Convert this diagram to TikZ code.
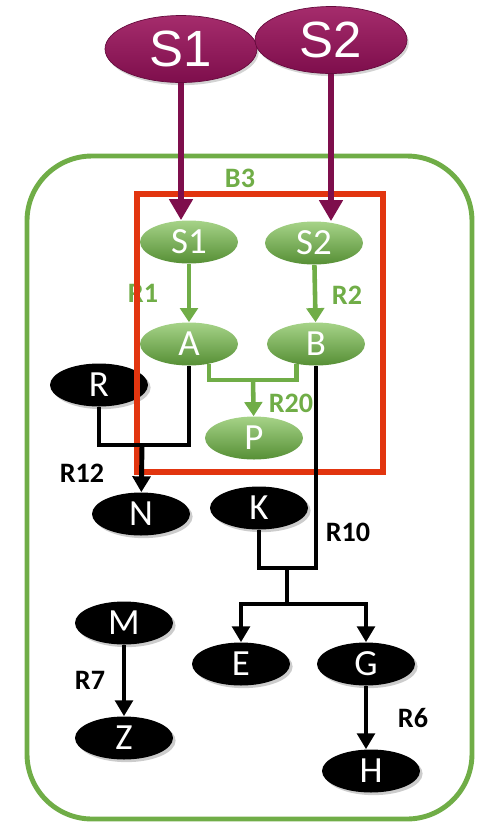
\documentclass[tikz,border=0pt]{standalone}
\usepackage{fontspec}
\setmainfont{Carlito}
\newfontfamily\arialfont{Liberation Sans}
\usetikzlibrary{shapes.geometric,arrows.meta,shadows}

\definecolor{plum}{HTML}{7E0E4C}
\definecolor{plumlight}{HTML}{A52C6C}
\definecolor{leaf}{HTML}{70AD47}
\definecolor{leaflight}{HTML}{A6D388}
\definecolor{leafdark}{HTML}{568F35}
\definecolor{boxred}{HTML}{E2350F}

\tikzset{
  metab/.style={ellipse, inner sep=0pt, minimum width=1.96cm, minimum height=0.86cm,
    text=white, font=\fontsize{21}{21}\selectfont},
  outside/.style={ellipse, inner sep=0pt, minimum width=3.04cm, minimum height=1.34cm,
    top color=plumlight, bottom color=plum, draw=plum!80!black, text=white,
    font=\arialfont\fontsize{29}{29}\selectfont,
    drop shadow={shadow xshift=1pt, shadow yshift=-1.5pt, opacity=0.35}},
  inside/.style={metab, top color=leaflight, bottom color=leafdark},
  other/.style={metab, fill=black,
    drop shadow={shadow xshift=1.5pt, shadow yshift=-1.5pt, opacity=0.4}},
  gline/.style={leaf, line width=2.6pt},
  garrow/.style={gline, -{Triangle[width=10pt,length=8pt]}},
  bline/.style={black, line width=2.8pt},
  barrow/.style={bline, -{Triangle[width=10pt,length=9pt]}},
  parrow/.style={plum, line width=3.6pt, -{Triangle[width=13pt,length=12pt]}},
  rxn/.style={font=\bfseries\fontsize{16}{16}\selectfont},
}

\begin{document}
\begin{tikzpicture}[x=0.02cm, y=-0.02cm]
  \useasboundingbox (0,0) rectangle (477,823);

  % Cell boundary
  \draw[leaf, line width=2.8pt, rounded corners=1.3cm] (27,156) rectangle (472,819);
  \node[rxn, text=leaf] (b3) at (240,178) {B3};

  % Outside metabolites
  \node[outside] (S1t) at (181,49) {S1};
  \node[outside] (S2t) at (331,40) {S2};

  % Compartment metabolites
  \node[inside] (S1g) at (189,242) {S1};
  \node[inside] (S2g) at (314,243) {S2};
  \node[inside] (A) at (189,344) {A};
  \node[inside] (B) at (316,344) {B};
  \node[inside] (P) at (254,438) {P};

  % Other metabolites
  \node[other] (R) at (99,385) {R};
  \node[other] (N) at (141,514) {N};
  \node[other] (K) at (259,508) {K};
  \node[other] (M) at (124,623) {M};
  \node[other] (E) at (241,664) {E};
  \node[other] (G) at (366,664) {G};
  \node[other] (Z) at (124,738) {Z};
  \node[other] (H) at (371,771) {H};

  % Reaction labels
  \node[rxn, text=leaf] (r1) at (143,293) {R1};
  \node[rxn, text=leaf] (r2) at (347,295) {R2};
  \node[rxn, text=leaf] (r20) at (291,403) {R20};
  \node[rxn] (r12) at (82,473) {R12};
  \node[rxn] (r10) at (348,532) {R10};
  \node[rxn] (r7) at (90,680) {R7};
  \node[rxn] (r6) at (413,718) {R6};

  % Compartment box
  \draw[boxred, line width=3.4pt] (137,194) rectangle (383,472);

  % Junction points
  \coordinate (j20) at (253,380);
  \coordinate (j12) at (142,445);
  \coordinate (j10) at (287,568);
  \coordinate (k10) at (287,604);

  % Transport
  \draw[parrow] (S1t.south) -- (S1t.south |- S1g.north);
  \draw[parrow] (S2t.south) -- (S2t.south |- S2g.north);

  % Reactions in the compartment
  \draw[garrow] (S1g) -- (A);
  \draw[garrow] (S2g) -- (B);
  \draw[gline] (A.-45) |- (j20) -| (B.-134);
  \draw[garrow] (j20) -- (P);

  % Reactions outside
  \draw[bline] (R.south) |- (j12);
  \draw[bline] (A.south) |- (j12);
  \draw[barrow] (j12) -- (N);
  \draw[bline] (B.south) |- (j10);
  \draw[bline] (K.south) |- (j10);
  \draw[bline] (j10) -- (k10);
  \draw[barrow] (k10) -| (E.north);
  \draw[barrow] (k10) -| (G.north);
  \draw[barrow] (M) -- (Z);
  \draw[barrow] (G) -- (H.north -| G.south);
\end{tikzpicture}
\end{document}
